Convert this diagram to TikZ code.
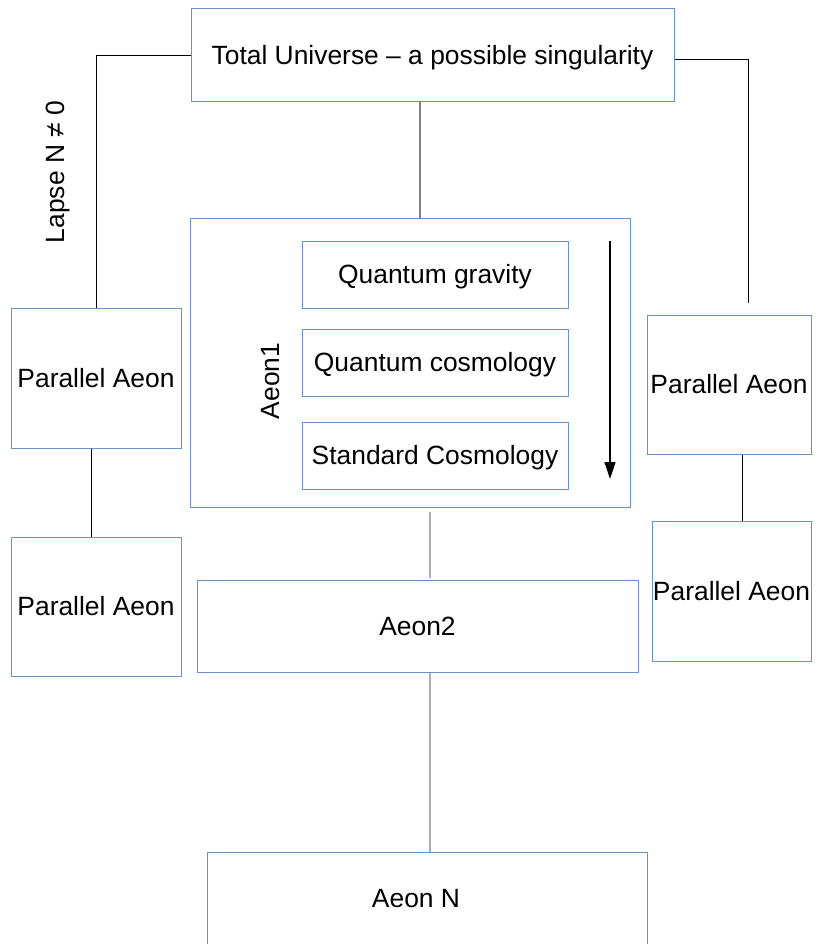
\documentclass[tikz,border=0pt]{standalone}
\usepackage{fontspec}
\setmainfont{Liberation Sans}
\usetikzlibrary{arrows.meta}
\definecolor{boxblue}{RGB}{105,145,198}
\definecolor{lgray}{RGB}{175,175,175}
\begin{document}
\begin{tikzpicture}[x=1pt,y=-1pt,
  box/.style={draw=boxblue, line width=1pt, inner sep=0pt, font=\fontsize{26.4}{30}\selectfont, text=black, text height=23.6pt, text depth=5.6pt},
  lbl/.style={font=\fontsize{26.4}{30}\selectfont, text=black, inner sep=0pt},
  conn/.style={line width=1pt, black},
  gconn/.style={line width=1.5pt, lgray}]
\useasboundingbox (0,0) rectangle (817,944);
\clip (0,0) rectangle (817,944);
% boxes
\node[box, minimum width=483pt, minimum height=93pt] (top) at (432.5,55.5) {Total Universe – a possible singularity};
\node[box, minimum width=440pt, minimum height=289pt] (aeon1) at (410,362.5) {};
\node[box, minimum width=266pt, minimum height=67pt] (qg) at (435,274.5) {Quantum gravity};
\node[box, minimum width=266pt, minimum height=67pt] (qc) at (435,362.5) {Quantum cosmology};
\node[box, minimum width=266pt, minimum height=67pt] (sc) at (435,455.5) {Standard Cosmology};
\node[box, minimum width=441pt, minimum height=92pt] (aeon2) at (417.5,626) {Aeon2};
\node[box, minimum width=440pt, minimum height=93pt] (aeonN) at (427,898.5) {\hspace*{-22pt}Aeon N};
\node[box, minimum width=170pt, minimum height=140pt] (pa1) at (96,378) {Parallel Aeon};
\node[box, minimum width=170pt, minimum height=139pt] (pa2) at (96,606.5) {Parallel Aeon};
\node[box, minimum width=164pt, minimum height=139pt] (pa3) at (729,384.5) {Parallel Aeon};
\node[box, minimum width=159pt, minimum height=140pt] (pa4) at (731.5,591) {Parallel Aeon};
% labels
\node[lbl, rotate=90] (lapse) at (58,172) {Lapse N ≠ 0};
\node[lbl, rotate=90] (aeon1lbl) at (271,381) {Aeon1};
% connectors
\coordinate (rend) at (748,303);
\coordinate (cx1) at (420,0);
\coordinate (cx2) at (430,0);
\draw[conn] (top.west) -| (pa1.north);
\draw[conn] ([yshift=-4.5pt]top.east) -| (rend);
\draw[conn] ([xshift=-5pt]pa1.south) -- ([xshift=-5pt]pa2.north);
\draw[conn] ([xshift=13pt]pa3.south) -- ([xshift=13pt]pa3.south |- pa4.north);
\draw[gconn, draw=gray] (top.south -| cx1) -- (aeon1.north -| cx1);
\draw[gconn] ([yshift=-4pt]aeon1.south -| cx2) -- ([yshift=2pt]aeon2.north -| cx2);
\draw[gconn] (aeon2.south -| cx2) -- (aeonN.north -| cx2);
% arrow
\coordinate (as) at (610,241);
\coordinate (ae) at (610,479);
\draw[line width=1.3pt, -{Triangle[length=17pt,width=11pt]}] (as) -- (ae);
\end{tikzpicture}
\end{document}
